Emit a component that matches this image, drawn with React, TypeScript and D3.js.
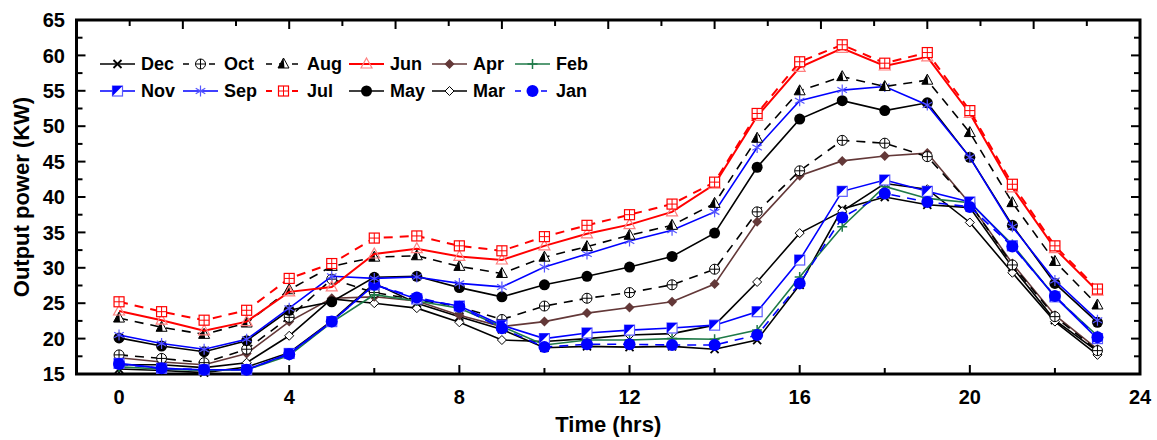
import * as d3 from 'd3';
import React, { useRef, useEffect } from 'react';

// hours of the day
const hours = [0, 1, 2, 3, 4, 5, 6, 7, 8, 9, 10, 11, 12, 13, 14, 15, 16, 17, 18, 19, 20, 21, 22, 23];

// output power (KW) per month
const dec = [15.7, 15.5, 15.2, 16.0, 18.0, 22.5, 27.8, 25.0, 23.1, 21.3, 18.7, 18.9, 18.8, 18.9, 18.5, 19.8, 27.6, 38.3, 40.0, 38.9, 38.5, 30.1, 22.6, 18.2];
const nov = [16.5, 15.8, 15.6, 15.6, 17.9, 22.4, 27.6, 25.6, 24.6, 21.9, 20.0, 20.8, 21.2, 21.5, 21.9, 23.8, 31.1, 40.8, 42.4, 40.8, 39.3, 33.1, 25.9, 20.0];
const oct = [17.7, 17.2, 16.6, 18.5, 23.0, 28.4, 26.5, 25.5, 24.5, 22.7, 24.6, 25.7, 26.5, 27.6, 29.8, 37.9, 43.7, 48.0, 47.6, 45.7, 39.1, 30.4, 23.1, 18.3];
const sep = [20.5, 19.3, 18.5, 19.9, 24.3, 28.8, 28.5, 28.7, 27.8, 27.3, 30.1, 31.95, 33.8, 35.3, 37.9, 47.0, 53.6, 55.1, 55.6, 53.0, 45.6, 35.8, 28.2, 22.6];
const aug = [22.9, 21.6, 20.6, 22.2, 26.9, 30.2, 31.5, 31.7, 30.2, 29.2, 31.5, 33.0, 34.6, 36.0, 39.1, 48.3, 55.0, 57.0, 55.6, 56.5, 49.1, 39.2, 30.9, 24.75];
const jul = [25.2, 23.8, 22.6, 24.0, 28.5, 30.6, 34.2, 34.5, 33.1, 32.4, 34.4, 36.0, 37.5, 39.0, 42.1, 51.8, 59.1, 61.5, 58.9, 60.4, 52.2, 41.8, 33.1, 27.0];
const jun = [23.9, 22.6, 21.1, 22.4, 26.6, 27.3, 31.95, 32.7, 31.6, 31.1, 33.1, 34.8, 36.1, 37.9, 41.8, 51.4, 58.3, 61.0, 58.5, 59.8, 51.8, 41.3, 32.7, 26.7];
const may = [20.1, 18.95, 18.15, 19.7, 24.0, 25.2, 28.66, 28.8, 27.2, 25.9, 27.6, 28.8, 30.1, 31.6, 34.9, 44.2, 51.0, 53.6, 52.2, 53.3, 45.6, 36.0, 27.8, 22.3];
const apr = [17.3, 16.7, 16.3, 17.9, 22.4, 25.7, 25.9, 25.3, 23.3, 21.7, 22.4, 23.6, 24.4, 25.2, 27.7, 36.5, 43.0, 45.1, 45.8, 46.2, 39.1, 30.6, 23.3, 18.5];
const mar = [16.3, 16.3, 15.9, 16.6, 20.4, 25.6, 25.0, 24.3, 22.3, 19.8, 19.6, 20.0, 20.5, 20.7, 21.9, 28.0, 34.9, 38.0, 41.9, 41.1, 36.4, 29.3, 22.4, 17.7];
const feb = [16.0, 15.7, 15.5, 15.6, 17.6, 22.3, 26.2, 25.3, 24.3, 21.7, 19.1, 19.8, 19.8, 20.0, 19.9, 21.2, 28.7, 35.8, 41.5, 39.8, 39.2, 33.3, 25.9, 20.4];
const jan = [16.4, 15.8, 15.6, 15.6, 17.8, 22.4, 27.6, 25.8, 24.5, 21.45, 18.8, 19.2, 19.2, 19.1, 19.1, 20.5, 27.8, 37.1, 40.5, 39.3, 38.6, 33.0, 26.0, 20.2];

const xTicks = [0, 4, 8, 12, 16, 20, 24];
const yTicks = [15, 20, 25, 30, 35, 40, 45, 50, 55, 60, 65];

// legend order: row 1 then row 2
const legendRows = [
  ['Dec', 'Oct', 'Aug', 'Jun', 'Apr', 'Feb'],
  ['Nov', 'Sep', 'Jul', 'May', 'Mar', 'Jan'],
];

const RED = '#ff0000', BLUE = '#0000ff', GREEN = '#1f7a48', BROWN = '#633838';

const series = [
  { name: 'Dec', values: dec, color: '#000', dash: null, marker: 'cross' },
  { name: 'Mar', values: mar, color: '#000', dash: null, marker: 'diamondOpen' },
  { name: 'Apr', values: apr, color: BROWN, dash: null, marker: 'diamondFill' },
  { name: 'Oct', values: oct, color: '#000', dash: '9,7', marker: 'circlePlus' },
  { name: 'Feb', values: feb, color: GREEN, dash: null, marker: 'plus' },
  { name: 'Nov', values: nov, color: BLUE, dash: null, marker: 'squareHalf' },
  { name: 'Jan', values: jan, color: BLUE, dash: '9,7', marker: 'circleBlue' },
  { name: 'May', values: may, color: '#000', dash: null, marker: 'circleFill' },
  { name: 'Sep', values: sep, color: BLUE, dash: null, marker: 'asterisk' },
  { name: 'Aug', values: aug, color: '#000', dash: '9,7', marker: 'triHalf' },
  { name: 'Jun', values: jun, color: RED, dash: null, marker: 'triOpen' },
  { name: 'Jul', values: jul, color: RED, dash: '9,7', marker: 'squareGrid' },
];

function drawMarker(g, kind, cx, cy) {
  const s = 5;
  if (kind === 'cross') {
    g.append('path').attr('d', `M${cx - 4},${cy - 4}L${cx + 4},${cy + 4}M${cx - 4},${cy + 4}L${cx + 4},${cy - 4}`)
      .attr('stroke', '#000').attr('stroke-width', 1.8);
  } else if (kind === 'diamondOpen') {
    g.append('path').attr('d', `M${cx},${cy - 4.5}L${cx + 4.5},${cy}L${cx},${cy + 4.5}L${cx - 4.5},${cy}Z`)
      .attr('fill', '#fff').attr('stroke', '#000').attr('stroke-width', 1);
  } else if (kind === 'diamondFill') {
    g.append('path').attr('d', `M${cx},${cy - 5}L${cx + 5},${cy}L${cx},${cy + 5}L${cx - 5},${cy}Z`)
      .attr('fill', BROWN);
  } else if (kind === 'circlePlus') {
    g.append('circle').attr('cx', cx).attr('cy', cy).attr('r', s).attr('fill', '#fff').attr('stroke', '#000').attr('stroke-width', 1);
    g.append('path').attr('d', `M${cx - s},${cy}L${cx + s},${cy}M${cx},${cy - s}L${cx},${cy + s}`)
      .attr('stroke', '#000').attr('stroke-width', 1);
  } else if (kind === 'plus') {
    g.append('path').attr('d', `M${cx - 5},${cy}L${cx + 5},${cy}M${cx},${cy - 5}L${cx},${cy + 5}`)
      .attr('stroke', GREEN).attr('stroke-width', 1.5);
  } else if (kind === 'squareHalf') {
    g.append('rect').attr('x', cx - s).attr('y', cy - s).attr('width', 2 * s).attr('height', 2 * s)
      .attr('fill', '#fff').attr('stroke', '#5a5aff').attr('stroke-width', 1.2);
    g.append('path').attr('d', `M${cx - s},${cy - s}L${cx + s},${cy - s}L${cx - s},${cy + s}Z`).attr('fill', BLUE);
  } else if (kind === 'circleBlue') {
    g.append('circle').attr('cx', cx).attr('cy', cy).attr('r', 6).attr('fill', BLUE);
  } else if (kind === 'circleFill') {
    g.append('circle').attr('cx', cx).attr('cy', cy).attr('r', 5.5).attr('fill', '#000');
  } else if (kind === 'asterisk') {
    const a = 5.5, b = a * 0.87, c = a * 0.5;
    g.append('path').attr('d', `M${cx},${cy - a}L${cx},${cy + a}M${cx - b},${cy - c}L${cx + b},${cy + c}M${cx - b},${cy + c}L${cx + b},${cy - c}`)
      .attr('stroke', '#5555ff').attr('stroke-width', 1.2);
  } else if (kind === 'triHalf') {
    g.append('path').attr('d', `M${cx},${cy - 6}L${cx + 5.5},${cy + 4}L${cx - 5.5},${cy + 4}Z`)
      .attr('fill', '#fff').attr('stroke', '#000').attr('stroke-width', 1);
    g.append('path').attr('d', `M${cx},${cy - 6}L${cx + 1},${cy + 4}L${cx - 5.5},${cy + 4}Z`).attr('fill', '#000');
  } else if (kind === 'triOpen') {
    g.append('path').attr('d', `M${cx},${cy - 6}L${cx + 5.5},${cy + 4}L${cx - 5.5},${cy + 4}Z`)
      .attr('fill', 'none').attr('stroke', '#ff8080').attr('stroke-width', 1.2);
  } else if (kind === 'squareGrid') {
    g.append('rect').attr('x', cx - s).attr('y', cy - s).attr('width', 2 * s).attr('height', 2 * s)
      .attr('fill', '#fff').attr('stroke', RED).attr('stroke-width', 1.2);
    g.append('path').attr('d', `M${cx - s},${cy}L${cx + s},${cy}M${cx},${cy - s}L${cx},${cy + s}`)
      .attr('stroke', RED).attr('stroke-width', 1);
  }
}

function PowerChart() {
  const ref = useRef(null);
  const width = 1157, height = 440;
  const margin = { top: 20, right: 17, bottom: 66, left: 76.5 };

  useEffect(() => {
    const svg = d3.select(ref.current);
    svg.selectAll('*').remove();

    const x = d3.scaleLinear().domain([-1, 24]).range([margin.left, width - margin.right]);
    const y = d3.scaleLinear().domain([15, 65]).range([height - margin.bottom, margin.top]);
    const xTop = d3.scaleLinear().domain([0, 10]).range(x.range());
    const font = "'Liberation Sans', Arial, sans-serif";

    const x0 = x.range()[0], x1 = x.range()[1], y0 = y.range()[0], y1 = y.range()[1];

    // ticks (all inward)
    const tk = svg.append('g').attr('stroke', '#000').attr('stroke-width', 2);
    d3.range(15, 65.1, 2.5).forEach(v => {
      const len = v % 5 === 0 ? 9 : 6;
      tk.append('line').attr('x1', x0).attr('x2', x0 + len).attr('y1', y(v)).attr('y2', y(v));
      tk.append('line').attr('x1', x1).attr('x2', x1 - len).attr('y1', y(v)).attr('y2', y(v));
    });
    d3.range(0, 24.1, 2).forEach(h => {
      const len = h % 4 === 0 ? 9 : 6;
      tk.append('line').attr('x1', x(h)).attr('x2', x(h)).attr('y1', y0).attr('y2', y0 - len);
    });
    d3.range(0.5, 10, 0.5).forEach(t => {
      const len = t % 1 === 0 ? 9 : 6;
      tk.append('line').attr('x1', xTop(t)).attr('x2', xTop(t)).attr('y1', y1).attr('y2', y1 + len);
    });

    // frame
    svg.append('rect').attr('x', x0).attr('y', y1).attr('width', x1 - x0).attr('height', y0 - y1)
      .attr('fill', 'none').attr('stroke', '#000').attr('stroke-width', 3);

    // tick labels
    svg.append('g').selectAll('text').data(yTicks).enter().append('text')
      .attr('x', 65).attr('y', d => y(d)).attr('dy', '0.36em').attr('text-anchor', 'end')
      .attr('font-family', font).attr('font-weight', 'bold').attr('font-size', 20).text(d => d);
    svg.append('g').selectAll('text').data(xTicks).enter().append('text')
      .attr('x', d => x(d)).attr('y', 404).attr('text-anchor', 'middle')
      .attr('font-family', font).attr('font-weight', 'bold').attr('font-size', 20).text(d => d);

    // axis titles
    svg.append('text').attr('x', (x0 + x1) / 2).attr('y', 432).attr('text-anchor', 'middle')
      .attr('font-family', font).attr('font-weight', 'bold').attr('font-size', 22).text('Time (hrs)');
    svg.append('text').attr('transform', `translate(29,${(y0 + y1) / 2}) rotate(-90)`).attr('text-anchor', 'middle')
      .attr('font-family', font).attr('font-weight', 'bold').attr('font-size', 22).text('Output power (KW)');

    // series lines + markers
    const line = d3.line().x((d, i) => x(hours[i])).y(d => y(d));
    series.forEach(s => {
      const g = svg.append('g');
      g.append('path').datum(s.values).attr('d', line).attr('fill', 'none')
        .attr('stroke', s.color).attr('stroke-width', s.color === RED ? 2 : 1.6)
        .attr('stroke-dasharray', s.dash);
      s.values.forEach((v, i) => drawMarker(g, s.marker, x(hours[i]), y(v)));
    });

    // legend
    const lg = svg.append('g');
    legendRows.forEach((row, r) => {
      row.forEach((name, c) => {
        const s = series.find(d => d.name === name);
        const lx = 100 + c * 83, ly = 64 + r * 27;
        lg.append('line').attr('x1', lx).attr('x2', lx + 35).attr('y1', ly).attr('y2', ly)
          .attr('stroke', s.color).attr('stroke-width', s.color === RED ? 2 : 1.6)
          .attr('stroke-dasharray', s.dash ? '6,7' : null);
        drawMarker(lg, s.marker, lx + 17.5, ly);
        lg.append('text').attr('x', lx + 41).attr('y', ly).attr('dy', '0.36em')
          .attr('font-family', font).attr('font-weight', 'bold').attr('font-size', 18).text(name);
      });
    });
  }, []);

  return <svg ref={ref} width={width} height={height} style={{ position: 'absolute', left: 0, top: 0, background: '#fff' }} />;
}

export default function App() {
  return <PowerChart />;
}
